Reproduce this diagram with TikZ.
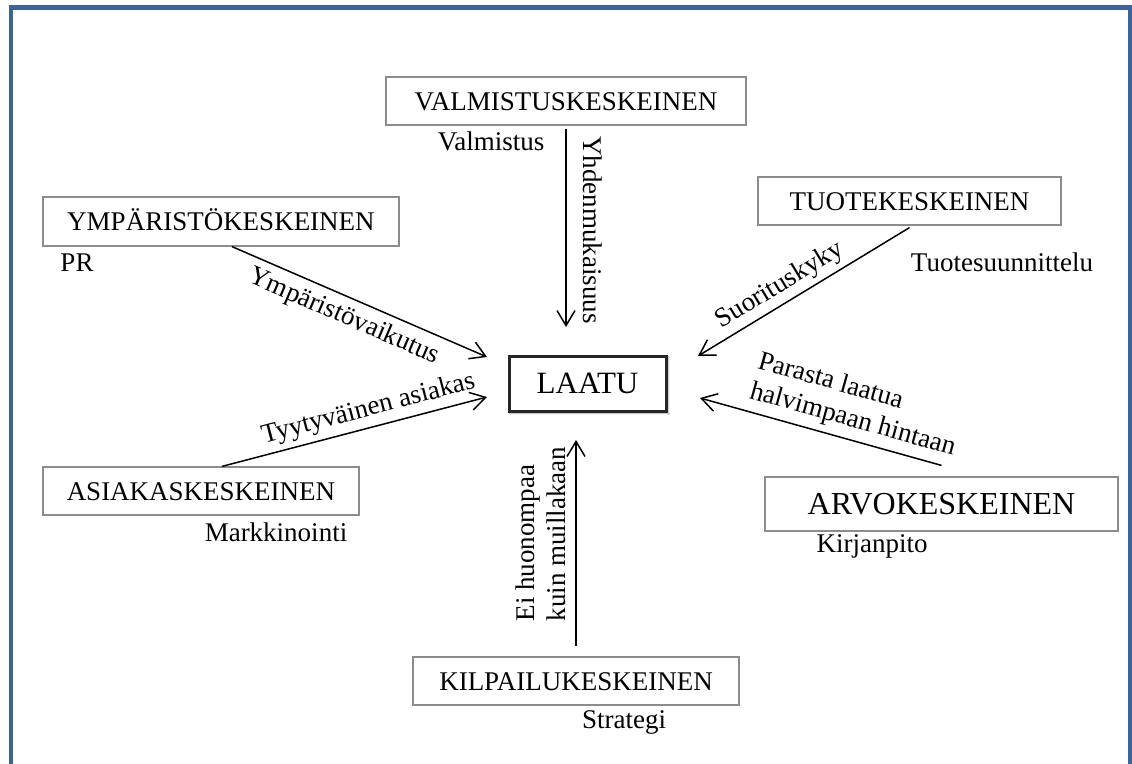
\documentclass[tikz,border=0pt]{standalone}
\usepackage{fontspec}
\setmainfont{Liberation Serif}
\usetikzlibrary{arrows.meta,calc,shadows.blur}
\definecolor{framebl}{HTML}{3E6497}
\begin{document}
\begin{tikzpicture}[x=1pt,y=-1pt,
  catbox/.style={draw=black!45, line width=1.2pt, fill=white, inner sep=0pt,
    font=\fontsize{27}{31}\selectfont, text height=18pt, text depth=0pt},
  core/.style={draw=black!85, line width=3pt, fill=white, inner sep=0pt,
    font=\fontsize{31}{36}\selectfont, text height=20.5pt, text depth=0pt,
    blur shadow={shadow xshift=2pt, shadow yshift=-2pt, shadow blur steps=6, shadow opacity=35}},
  flow/.style={line width=1.5pt, -{Straight Barb[length=15pt,width=18pt,line width=1.5pt]}},
  lbl/.style={font=\fontsize{27}{31}\selectfont, inner sep=2pt}
]
\useasboundingbox (0,0) rectangle (1132,763);
\fill[white] (0,0) rectangle (1132,763);

% page frame, open at the bottom
\draw[framebl, line width=4.5pt] (11,770) -- (11,7.5) -- (1130,7.5) -- (1130,770);

% category boxes
\node[catbox, minimum width=360pt, minimum height=48pt] (valm) at (566,101) {VALMISTUSKESKEINEN};
\node[catbox, minimum width=356pt, minimum height=49pt] (ymp) at (221,221.5) {YMPÄRISTÖKESKEINEN};
\node[catbox, minimum width=303pt, minimum height=48pt] (tuote) at (909.5,201) {TUOTEKESKEINEN};
\node[core, minimum width=157pt, minimum height=55pt] (laatu) at (587.5,383.5) {LAATU};
\node[catbox, minimum width=316pt, minimum height=48pt] (asiak) at (201,491) {ASIAKASKESKEINEN};
\node[catbox, minimum width=353pt, minimum height=54pt, font=\fontsize{32}{38}\selectfont, text height=21pt] (arvo) at (941.5,504) {ARVOKESKEINEN};
\node[catbox, minimum width=326pt, minimum height=48pt] (kilp) at (576,681) {KILPAILUKESKEINEN};

% function names
\node[lbl] (fvalm) at (491,141) {Valmistus};
\node[lbl] (fymp) at (77,263) {PR};
\node[lbl] (ftuote) at (1002,262) {Tuotesuunnittelu};
\node[lbl] (fasiak) at (276,532) {Markkinointi};
\node[lbl] (farvo) at (872,546) {Kirjanpito};
\node[lbl] (fkilp) at (624,722) {Strategi};

% arrow tips around the centre box
\coordinate (tipV) at (566,327);
\coordinate (tipY) at (487,357);
\coordinate (tipT) at (487,397);
\coordinate (tipS) at (698,356);
\coordinate (tipP) at (700,398);
\coordinate (tipK) at (576,440);

% connectors
\draw[flow] ([yshift=-3pt]valm.south) -- (tipV);
\node[lbl, rotate=-90] (lyhd) at (593,230) {Yhdenmukaisuus};

\draw[flow] ([xshift=11pt]ymp.south) -- node[lbl, sloped, below=5pt, pos=0.47] (lymp) {Ympäristövaikutus} (tipY);

\draw[flow] ([xshift=21pt]asiak.north) -- node[lbl, sloped, above=3pt, pos=0.57] (lasiak) {Tyytyväinen asiakas} (tipT);

\draw[flow] ([yshift=-2pt]tuote.south) -- node[lbl, sloped, above=2.5pt, pos=0.57] (ltuote) {Suorituskyky} (tipS);

\draw[flow] ([yshift=11pt]arvo.north) -- node[lbl, sloped, above=4.5pt, pos=0.39, align=left] (larvo) {Parasta laatua\\halvimpaan hintaan} (tipP);

\draw[flow] ([yshift=10pt]kilp.north) -- (tipK);
\node[lbl, rotate=90, align=left] (lkilp) at (541,534) {Ei huonompaa\\kuin muillakaan};
\end{tikzpicture}
\end{document}
